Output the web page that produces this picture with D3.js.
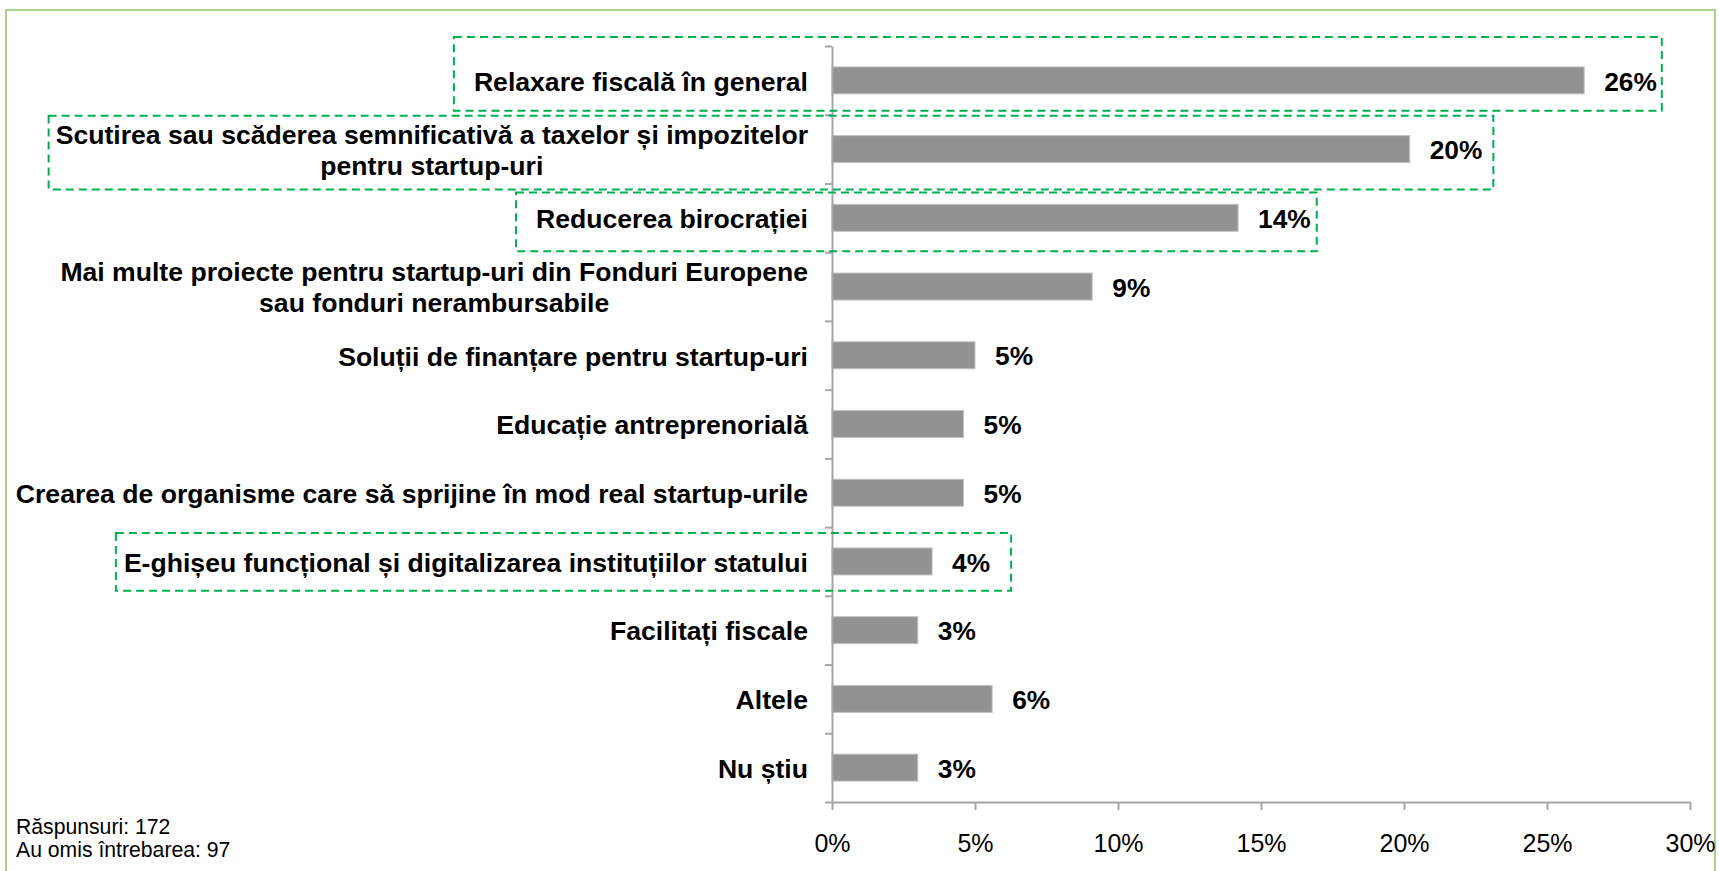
<!DOCTYPE html>
<html>
<head>
<meta charset="utf-8">
<script src="https://cdn.jsdelivr.net/npm/d3@7"></script>
<style>
  html, body { margin: 0; padding: 0; background: #fff; }
  svg { display: block; font-family: "Liberation Sans", Arial, sans-serif; }
</style>
</head>
<body>
<div id="chart"></div>
<script>
// answers, top to bottom ("\n" = line break in the label)
const categories = [
  "Relaxare fiscală în general",
  "Scutirea sau scăderea semnificativă a taxelor și impozitelor\npentru startup-uri",
  "Reducerea birocrației",
  "Mai multe proiecte pentru startup-uri din Fonduri Europene\nsau fonduri nerambursabile",
  "Soluții de finanțare pentru startup-uri",
  "Educație antreprenorială",
  "Crearea de organisme care să sprijine în mod real startup-urile",
  "E-ghișeu funcțional și digitalizarea instituțiilor statului",
  "Facilitați fiscale",
  "Altele",
  "Nu știu"
];
// share of respondents, in percent
const values = [26.3, 20.2, 14.2, 9.1, 5.0, 4.6, 4.6, 3.5, 3.0, 5.6, 3.0];
const valueLabels = ["26%", "20%", "14%", "9%", "5%", "5%", "5%", "4%", "3%", "6%", "3%"];
const xTicks = [0, 5, 10, 15, 20, 25, 30];
const footnotes = ["Răspunsuri: 172", "Au omis întrebarea: 97"];
// answers framed with a dashed green box
const highlighted = [0, 1, 2, 7];

const width = 1719, height = 871;
const plot = { left: 832, right: 1690, top: 46, bottom: 802 };

const svg = d3.select("#chart")
  .append("svg")
  .attr("width", width)
  .attr("height", height);

// outer frame
svg.append("rect")
  .attr("x", 6).attr("y", 10)
  .attr("width", 1709).attr("height", 900)
  .attr("fill", "none")
  .attr("stroke", "#a9d18e")
  .attr("stroke-width", 2);

const x = d3.scaleLinear()
  .domain([0, 30])
  .range([plot.left, plot.right]);

const y = d3.scaleBand()
  .domain(d3.range(categories.length))
  .range([plot.top, plot.bottom]);

// linear helper so the category axis gets ticks between the bands
const yEdges = d3.scaleLinear()
  .domain([0, categories.length])
  .range([plot.top, plot.bottom]);

const axisColor = "#a6a6a6";
const barH = 27;

// bars
svg.selectAll(".bar")
  .data(values)
  .enter()
  .append("rect")
  .attr("class", "bar")
  .attr("x", x(0))
  .attr("y", (d, i) => y(i) + (y.bandwidth() - barH) / 2)
  .attr("width", d => x(d) - x(0))
  .attr("height", barH)
  .attr("fill", "#929292")
  .attr("stroke", "#c4c4c4")
  .attr("stroke-width", 1);

// category axis
const yAxis = svg.append("g")
  .attr("transform", `translate(${plot.left},0)`)
  .call(d3.axisLeft(yEdges)
    .tickValues(d3.range(categories.length + 1))
    .tickSize(7)
    .tickSizeOuter(0)
    .tickFormat(""));
yAxis.selectAll("path, line")
  .attr("stroke", axisColor)
  .attr("stroke-width", 2);

// value axis
const xAxis = svg.append("g")
  .attr("transform", `translate(0,${plot.bottom})`)
  .call(d3.axisBottom(x)
    .tickValues(xTicks)
    .tickSize(8)
    .tickSizeOuter(0)
    .tickFormat(d => d + "%"));
xAxis.selectAll("path, line")
  .attr("stroke", axisColor)
  .attr("stroke-width", 2);
xAxis.selectAll("text")
  .attr("y", 41)
  .attr("dy", "0.35em")
  .attr("fill", "#000")
  .style("font-size", "25px")
  .style("font-family", "'Liberation Sans', Arial, sans-serif");

// category labels, each line centred on the block, block right-aligned
const labelRight = plot.left - 24;
const lineH = 31;
const labelGroups = svg.selectAll(".cat")
  .data(categories)
  .enter()
  .append("text")
  .attr("class", "cat")
  .attr("font-size", 26.6)
  .attr("font-weight", "bold")
  .attr("text-anchor", "middle")
  .attr("fill", "#000");

labelGroups.each(function(d, i) {
  const lines = d.split("\n");
  const t = d3.select(this);
  const cy = y(i) + y.bandwidth() / 2 + 1;
  lines.forEach((ln, k) => {
    t.append("tspan")
      .attr("y", cy + (k - (lines.length - 1) / 2) * lineH)
      .attr("dy", "0.35em")
      .text(ln);
  });
  const spans = t.selectAll("tspan").nodes();
  const w = d3.max(spans, n => n.getComputedTextLength());
  t.selectAll("tspan").attr("x", labelRight - w / 2);
});

// value labels
const valueText = svg.selectAll(".val")
  .data(values)
  .enter()
  .append("text")
  .attr("class", "val")
  .attr("x", d => x(d) + 20)
  .attr("y", (d, i) => y(i) + y.bandwidth() / 2 + 1)
  .attr("dy", "0.35em")
  .attr("font-size", 26.3)
  .attr("font-weight", "bold")
  .attr("fill", "#000")
  .text((d, i) => valueLabels[i]);

// dashed highlight boxes: padding around label + value label, offsets vs band
const boxPad = {
  0: { l: 20, r: 5, t: -9, b: -4 },
  1: { l: 7, r: 11, t: 1, b: 6 },
  2: { l: 20, r: 6, t: 9, b: -1 },
  7: { l: 8, r: 21, t: 6, b: -5 }
};
const labelNodes = labelGroups.nodes();
const valueNodes = valueText.nodes();
highlighted.forEach(i => {
  const p = boxPad[i];
  const lb = labelNodes[i].getBBox();
  const vb = valueNodes[i].getBBox();
  const x0 = lb.x - p.l, x1 = vb.x + vb.width + p.r;
  const y0 = y(i) + p.t, y1 = y(i) + y.bandwidth() + p.b;
  svg.append("rect")
    .attr("x", x0).attr("y", y0)
    .attr("width", x1 - x0).attr("height", y1 - y0)
    .attr("fill", "none")
    .attr("stroke", "#00b050")
    .attr("stroke-width", 2)
    .attr("stroke-dasharray", "8,5");
});

// footnote
svg.selectAll(".note")
  .data(footnotes)
  .enter()
  .append("text")
  .attr("class", "note")
  .attr("x", 16)
  .attr("y", (d, i) => 827 + i * 23)
  .attr("dy", "0.35em")
  .attr("font-size", 21.2)
  .attr("fill", "#000")
  .text(d => d);
</script>
</body>
</html>
